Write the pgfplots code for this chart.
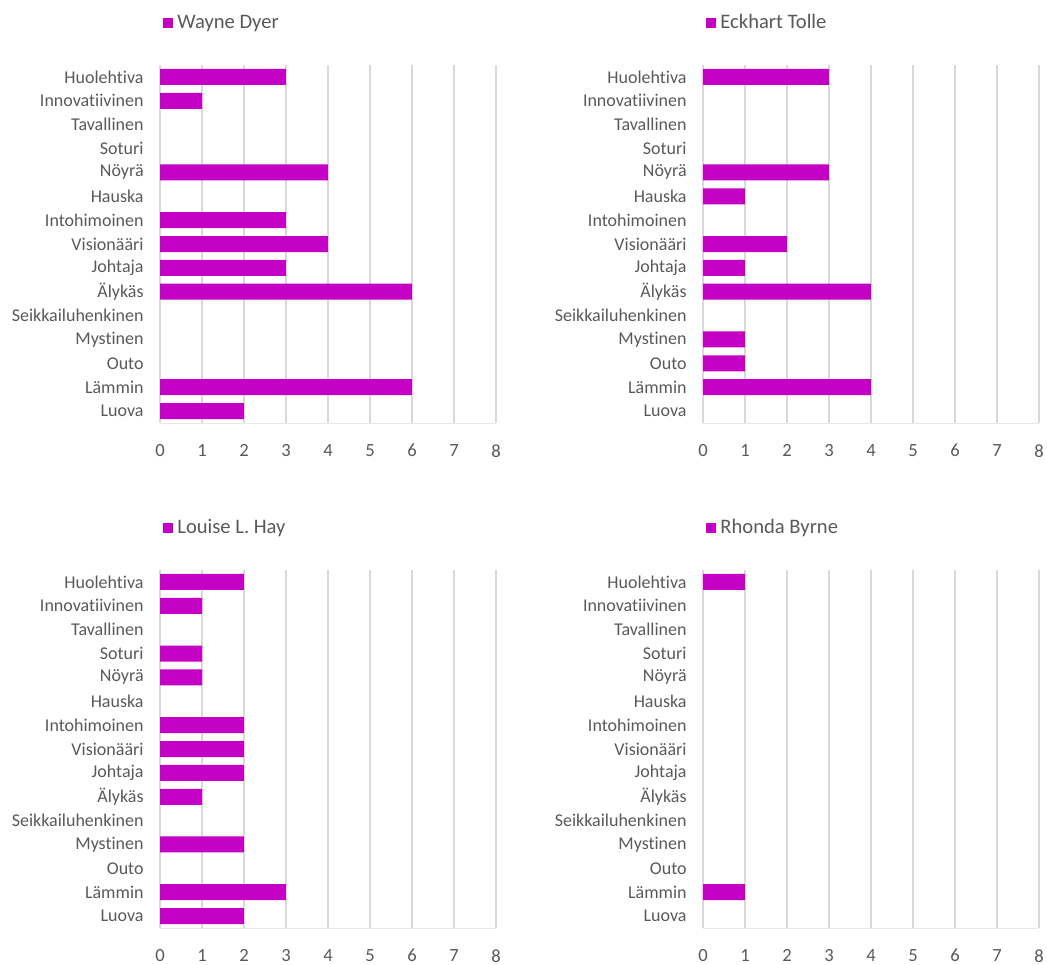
\documentclass[border=0pt]{standalone}
\usepackage{pgfplots}
\pgfplotsset{compat=1.18}
\usepackage{fontspec}
\setmainfont{Carlito}[Ligatures={NoCommon}]
\definecolor{bar}{RGB}{196,0,196}
\definecolor{txt}{RGB}{89,89,89}
\definecolor{grd}{RGB}{217,217,217}
\pgfplotsset{
  panel/.style={
    scale only axis, width=168pt, height=179pt,
    anchor=south west,
    xbar, bar width=8pt,
    xmin=0, xmax=8, ymin=-0.5, ymax=14.5,
    xtick={0,...,8}, ytick={0,...,14},
    yticklabels={Luova,Lämmin,Outo,Mystinen,Seikkailuhenkinen,Älykäs,Johtaja,Visionääri,Intohimoinen,Hauska,Nöyrä,Soturi,Tavallinen,Innovatiivinen,Huolehtiva},
    major tick length=0pt,
    xmajorgrids, grid style={grd, line width=0.7pt},
    axis x line*=bottom, axis y line*=left,
    x axis line style={draw=grd!60, line width=0.5pt, -},
    y axis line style={draw=none},
    /pgf/number format/assume math mode=true,
    xticklabel style={font=\fontsize{9.3pt}{10pt}\selectfont, text=txt, inner sep=0pt, anchor=north, yshift=-10.5pt},
    yticklabel style={font=\fontsize{9pt}{10pt}\selectfont, text=txt, inner sep=0pt, anchor=east, xshift=-8pt},
    legend style={draw=none, fill=none, at={(0,1)}, anchor=west, yshift=21pt, xshift=1.5pt, inner sep=0pt,
      font=\fontsize{10.3pt}{10pt}\selectfont, text=txt, legend cell align=left},
    legend image code/.code={\fill[bar] (0pt,-2.5pt) rectangle (5pt,2.5pt);},
    x filter/.expression={x==0 ? nan : x},
  }
}
\begin{document}
\begin{tikzpicture}
\useasboundingbox (0,0) rectangle (523.5pt,-482pt);
% Wayne Dyer
\begin{axis}[panel, at={(80pt,-211.5pt)}]
\addplot[fill=bar, draw=none] coordinates {(2,0) (6,1) (0,2) (0,3) (0,4) (6,5) (3,6) (4,7) (3,8) (0,9) (4,10) (0,11) (0,12) (1,13) (3,14)};
\addlegendentry{Wayne Dyer}
\end{axis}
% Eckhart Tolle
\begin{axis}[panel, at={(351.5pt,-211.5pt)}]
\addplot[fill=bar, draw=none] coordinates {(0,0) (4,1) (1,2) (1,3) (0,4) (4,5) (1,6) (2,7) (0,8) (1,9) (3,10) (0,11) (0,12) (0,13) (3,14)};
\addlegendentry{Eckhart Tolle}
\end{axis}
% Louise L. Hay
\begin{axis}[panel, at={(80pt,-464pt)}]
\addplot[fill=bar, draw=none] coordinates {(2,0) (3,1) (0,2) (2,3) (0,4) (1,5) (2,6) (2,7) (2,8) (0,9) (1,10) (1,11) (0,12) (1,13) (2,14)};
\addlegendentry{Louise L. Hay}
\end{axis}
% Rhonda Byrne
\begin{axis}[panel, at={(351.5pt,-464pt)}]
\addplot[fill=bar, draw=none] coordinates {(0,0) (1,1) (0,2) (0,3) (0,4) (0,5) (0,6) (0,7) (0,8) (0,9) (0,10) (0,11) (0,12) (0,13) (1,14)};
\addlegendentry{Rhonda Byrne}
\end{axis}
\end{tikzpicture}
\end{document}
